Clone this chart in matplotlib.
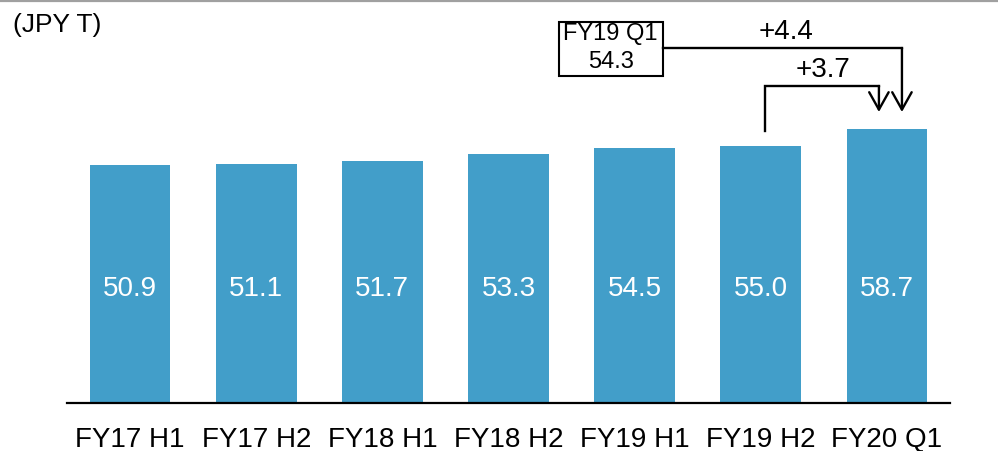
import matplotlib
matplotlib.use("Agg")
import matplotlib.pyplot as plt
from matplotlib.patches import FancyArrowPatch, Rectangle
from matplotlib.lines import Line2D

plt.rcParams['font.family'] = ['Liberation Sans', 'DejaVu Sans']

categories = ["FY17 H1", "FY17 H2", "FY18 H1", "FY18 H2", "FY19 H1", "FY19 H2", "FY20 Q1"]
values = [50.9, 51.1, 51.7, 53.3, 54.5, 55.0, 58.7]
ref_label = "FY19 Q1"
ref_value = 54.3
delta_q1 = "+4.4"
delta_h2 = "+3.7"
unit_label = "(JPY T)"

W, H, DPI = 998, 451, 100
fig = plt.figure(figsize=(W / DPI, H / DPI), dpi=DPI)
fig.patch.set_facecolor("white")

# axes geometry (pixels)
ax_left, ax_right, ax_bottom, ax_top = 67, 950, 403, 0
ax = fig.add_axes([ax_left / W, (H - ax_bottom) / H, (ax_right - ax_left) / W, (ax_bottom - ax_top) / H])
px_per_unit = 4.676
ax.set_ylim(0, (ax_bottom - ax_top) / px_per_unit)
ax.set_xlim(-0.5, len(categories) - 0.5)

bar_color = "#429ec9"
x = list(range(len(categories)))
bars = ax.bar(x, values, width=0.64, color=bar_color, edgecolor="none")

for xi, v in zip(x, values):
    ax.text(xi, 24.4, f"{v:.1f}", ha="center", va="center", color="white", fontsize=20)

ax.set_xticks(x)
ax.set_xticklabels(categories, fontsize=20)
ax.tick_params(axis="x", length=0, pad=17)
ax.set_yticks([])
for s in ["left", "right", "top"]:
    ax.spines[s].set_visible(False)
ax.spines["bottom"].set_linewidth(1.6)
ax.spines["bottom"].set_color("black")

# unit label
fig.text(13 / W, 1 - 25 / H, unit_label, ha="left", va="center", fontsize=19)

# top grey rule
fig.add_artist(Line2D([0, 997 / W], [1 - 1 / H, 1 - 1 / H], color="#a0a0a0", lw=1.6))

def py(p):  # pixel y -> data y
    return (ax_bottom - p) / px_per_unit

def px(p):  # pixel x -> data x
    return (p - 130) / 126.0

lw = 1.7
head = "->,head_length=12.5,head_width=7"
# reference box
bx0, bx1, by0, by1 = px(558), px(662), py(76), py(22)
ax.add_patch(Rectangle((bx0, by0), bx1 - bx0, by1 - by0, fill=False, edgecolor="black", lw=1.5, clip_on=False))
ax.text((bx0 + bx1) / 2, py(34), ref_label, ha="center", va="center", fontsize=17)
ax.text((bx0 + bx1) / 2, py(62), f"{ref_value:.1f}", ha="center", va="center", fontsize=17)

# arrow from reference box to FY20 Q1
xa = px(901)
ax.plot([bx1, xa], [py(48), py(48)], color="black", lw=lw, clip_on=False, solid_capstyle="projecting")
ax.add_patch(FancyArrowPatch((xa, py(48)), (xa, py(112)), arrowstyle=head,
                             mutation_scale=1, lw=lw, color="black", shrinkA=0, shrinkB=0, clip_on=False))
ax.text(px(785), py(32), delta_q1, ha="center", va="center", fontsize=20)

# arrow from FY19 H2 to FY20 Q1
xs = 5.03
xb = px(878)
ax.plot([xs, xs, xb], [values[5] + 3.1, py(86), py(86)], color="black", lw=lw, clip_on=False,
        solid_joinstyle="miter")
ax.add_patch(FancyArrowPatch((xb, py(86)), (xb, py(112)), arrowstyle=head,
                             mutation_scale=1, lw=lw, color="black", shrinkA=0, shrinkB=0, clip_on=False))
ax.text(px(822), py(70), delta_h2, ha="center", va="center", fontsize=20)

fig.savefig("out.png", dpi=DPI, facecolor="white")
